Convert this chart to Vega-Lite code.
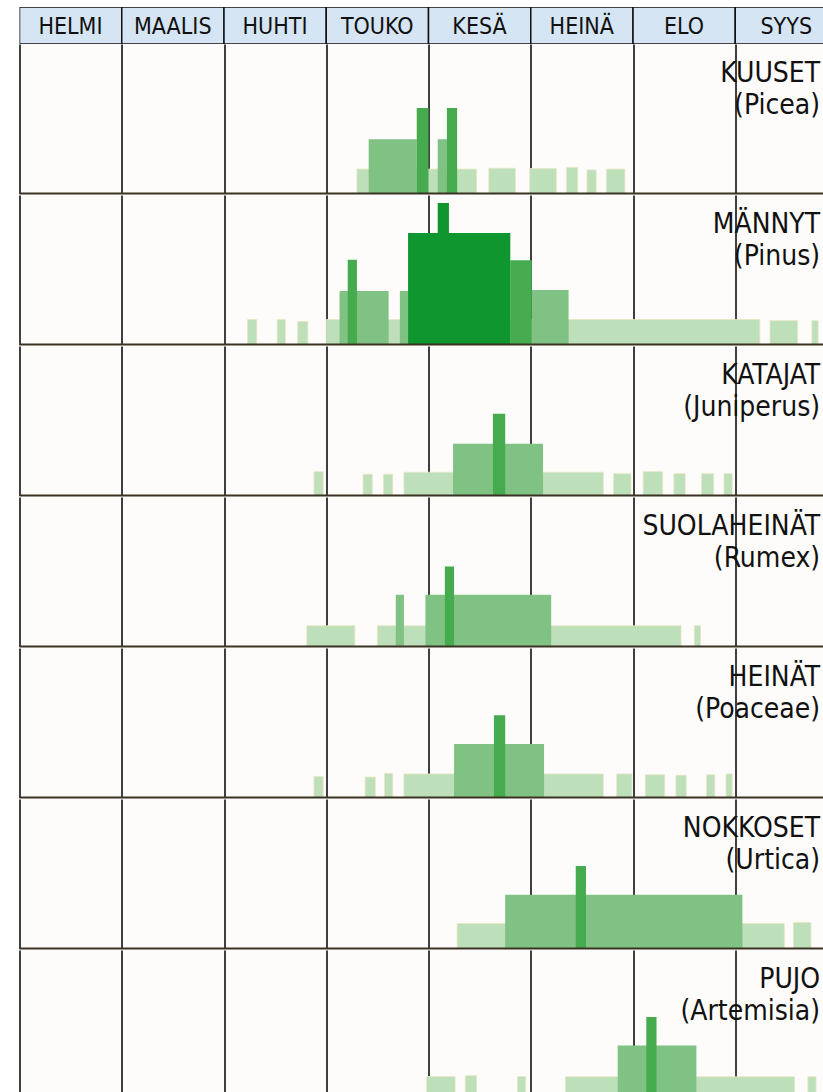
{
  "$schema": "https://vega.github.io/schema/vega-lite/v6.json",
  "padding": {"left": 18.5, "top": 7, "right": 0, "bottom": 0},
  "background": "#ffffff",
  "spacing": 0,
  "config": {
    "view": {"stroke": null, "fill": "#fdfcfa"},
    "font": "Liberation Sans Narrow, DejaVu Sans Condensed, Liberation Sans, sans-serif"
  },
  "vconcat": [
    {
      "width": 804,
      "height": 37,
      "data": {"values": [
        {"month": "HELMI", "s": 2, "e": 3},
        {"month": "MAALIS", "s": 3, "e": 4},
        {"month": "HUHTI", "s": 4, "e": 5},
        {"month": "TOUKO", "s": 5, "e": 6},
        {"month": "KESÄ", "s": 6, "e": 7},
        {"month": "HEINÄ", "s": 7, "e": 8},
        {"month": "ELO", "s": 8, "e": 9},
        {"month": "SYYS", "s": 9, "e": 10}
      ]},
      "encoding": {
        "x": {"field": "s", "type": "quantitative", "scale": {"domain": [2, 9.863], "nice": false, "zero": false}, "axis": null}
      },
      "layer": [
        {
          "mark": {"type": "rect", "fill": "#d5e5f3", "stroke": "#111111", "strokeWidth": 1.5, "clip": true},
          "encoding": {
            "x2": {"field": "e"},
            "y": {"datum": 0, "type": "quantitative", "scale": {"domain": [0, 1]}, "axis": null},
            "y2": {"datum": 1}
          }
        },
        {
          "mark": {"type": "text", "dx": 51, "dy": 1, "fontSize": 23, "baseline": "middle", "color": "#111111"},
          "encoding": {
            "text": {"field": "month"},
            "y": {"datum": 0.5, "type": "quantitative", "scale": {"domain": [0, 1]}, "axis": null}
          }
        }
      ]
    },
    {
      "data": {"values": [
        {"name": "KUUSET", "latin": "(Picea)", "s": 5.30, "e": 6.47, "level": 1, "h": 0.86},
        {"name": "KUUSET", "latin": "(Picea)", "s": 6.59, "e": 6.85, "level": 1, "h": 0.89},
        {"name": "KUUSET", "latin": "(Picea)", "s": 6.99, "e": 7.25, "level": 1, "h": 0.88},
        {"name": "KUUSET", "latin": "(Picea)", "s": 7.35, "e": 7.46, "level": 1, "h": 0.92},
        {"name": "KUUSET", "latin": "(Picea)", "s": 7.55, "e": 7.64, "level": 1, "h": 0.83},
        {"name": "KUUSET", "latin": "(Picea)", "s": 7.74, "e": 7.92, "level": 1, "h": 0.86},
        {"name": "KUUSET", "latin": "(Picea)", "s": 5.415, "e": 5.885, "level": 2, "h": 1.91},
        {"name": "KUUSET", "latin": "(Picea)", "s": 6.09, "e": 6.18, "level": 2, "h": 1.91},
        {"name": "KUUSET", "latin": "(Picea)", "s": 5.885, "e": 6.00, "level": 3, "h": 3.0},
        {"name": "KUUSET", "latin": "(Picea)", "s": 6.18, "e": 6.28, "level": 3, "h": 3.0},

        {"name": "MÄNNYT", "latin": "(Pinus)", "s": 4.23, "e": 4.32, "level": 1, "h": 0.88},
        {"name": "MÄNNYT", "latin": "(Pinus)", "s": 4.52, "e": 4.60, "level": 1, "h": 0.88},
        {"name": "MÄNNYT", "latin": "(Pinus)", "s": 4.72, "e": 4.82, "level": 1, "h": 0.81},
        {"name": "MÄNNYT", "latin": "(Pinus)", "s": 5.00, "e": 9.24, "level": 1, "h": 0.88},
        {"name": "MÄNNYT", "latin": "(Pinus)", "s": 9.34, "e": 9.61, "level": 1, "h": 0.84},
        {"name": "MÄNNYT", "latin": "(Pinus)", "s": 9.75, "e": 9.81, "level": 1, "h": 0.84},
        {"name": "MÄNNYT", "latin": "(Pinus)", "s": 5.13, "e": 5.61, "level": 2, "h": 1.88},
        {"name": "MÄNNYT", "latin": "(Pinus)", "s": 5.72, "e": 5.80, "level": 2, "h": 1.88},
        {"name": "MÄNNYT", "latin": "(Pinus)", "s": 7.01, "e": 7.37, "level": 2, "h": 1.92},
        {"name": "MÄNNYT", "latin": "(Pinus)", "s": 5.21, "e": 5.30, "level": 3, "h": 2.98},
        {"name": "MÄNNYT", "latin": "(Pinus)", "s": 6.80, "e": 7.01, "level": 3, "h": 2.96},
        {"name": "MÄNNYT", "latin": "(Pinus)", "s": 5.80, "e": 6.80, "level": 4, "h": 3.92},
        {"name": "MÄNNYT", "latin": "(Pinus)", "s": 6.09, "e": 6.20, "level": 5, "h": 4.97},

        {"name": "KATAJAT", "latin": "(Juniperus)", "s": 4.88, "e": 4.97, "level": 1, "h": 0.84},
        {"name": "KATAJAT", "latin": "(Juniperus)", "s": 5.36, "e": 5.45, "level": 1, "h": 0.75},
        {"name": "KATAJAT", "latin": "(Juniperus)", "s": 5.56, "e": 5.65, "level": 1, "h": 0.75},
        {"name": "KATAJAT", "latin": "(Juniperus)", "s": 5.76, "e": 7.71, "level": 1, "h": 0.82},
        {"name": "KATAJAT", "latin": "(Juniperus)", "s": 7.81, "e": 7.98, "level": 1, "h": 0.77},
        {"name": "KATAJAT", "latin": "(Juniperus)", "s": 8.10, "e": 8.29, "level": 1, "h": 0.84},
        {"name": "KATAJAT", "latin": "(Juniperus)", "s": 8.40, "e": 8.51, "level": 1, "h": 0.77},
        {"name": "KATAJAT", "latin": "(Juniperus)", "s": 8.67, "e": 8.79, "level": 1, "h": 0.77},
        {"name": "KATAJAT", "latin": "(Juniperus)", "s": 8.89, "e": 8.97, "level": 1, "h": 0.77},
        {"name": "KATAJAT", "latin": "(Juniperus)", "s": 6.24, "e": 7.12, "level": 2, "h": 1.82},
        {"name": "KATAJAT", "latin": "(Juniperus)", "s": 6.63, "e": 6.75, "level": 3, "h": 2.87},

        {"name": "SUOLAHEINÄT", "latin": "(Rumex)", "s": 4.81, "e": 5.28, "level": 1, "h": 0.73},
        {"name": "SUOLAHEINÄT", "latin": "(Rumex)", "s": 5.50, "e": 8.47, "level": 1, "h": 0.73},
        {"name": "SUOLAHEINÄT", "latin": "(Rumex)", "s": 8.60, "e": 8.66, "level": 1, "h": 0.73},
        {"name": "SUOLAHEINÄT", "latin": "(Rumex)", "s": 5.68, "e": 5.76, "level": 2, "h": 1.82},
        {"name": "SUOLAHEINÄT", "latin": "(Rumex)", "s": 5.97, "e": 7.20, "level": 2, "h": 1.82},
        {"name": "SUOLAHEINÄT", "latin": "(Rumex)", "s": 6.16, "e": 6.25, "level": 3, "h": 2.81},

        {"name": "HEINÄT", "latin": "(Poaceae)", "s": 4.88, "e": 4.97, "level": 1, "h": 0.74},
        {"name": "HEINÄT", "latin": "(Poaceae)", "s": 5.38, "e": 5.48, "level": 1, "h": 0.72},
        {"name": "HEINÄT", "latin": "(Poaceae)", "s": 5.57, "e": 5.65, "level": 1, "h": 0.85},
        {"name": "HEINÄT", "latin": "(Poaceae)", "s": 5.76, "e": 7.71, "level": 1, "h": 0.83},
        {"name": "HEINÄT", "latin": "(Poaceae)", "s": 7.84, "e": 7.99, "level": 1, "h": 0.83},
        {"name": "HEINÄT", "latin": "(Poaceae)", "s": 8.12, "e": 8.31, "level": 1, "h": 0.80},
        {"name": "HEINÄT", "latin": "(Poaceae)", "s": 8.42, "e": 8.52, "level": 1, "h": 0.78},
        {"name": "HEINÄT", "latin": "(Poaceae)", "s": 8.72, "e": 8.80, "level": 1, "h": 0.80},
        {"name": "HEINÄT", "latin": "(Poaceae)", "s": 8.91, "e": 8.97, "level": 1, "h": 0.83},
        {"name": "HEINÄT", "latin": "(Poaceae)", "s": 6.25, "e": 7.13, "level": 2, "h": 1.88},
        {"name": "HEINÄT", "latin": "(Poaceae)", "s": 6.64, "e": 6.75, "level": 3, "h": 2.89},

        {"name": "NOKKOSET", "latin": "(Urtica)", "s": 6.28, "e": 9.48, "level": 1, "h": 0.88},
        {"name": "NOKKOSET", "latin": "(Urtica)", "s": 9.57, "e": 9.74, "level": 1, "h": 0.92},
        {"name": "NOKKOSET", "latin": "(Urtica)", "s": 6.75, "e": 9.07, "level": 2, "h": 1.89},
        {"name": "NOKKOSET", "latin": "(Urtica)", "s": 7.44, "e": 7.54, "level": 3, "h": 2.9},

        {"name": "PUJO", "latin": "(Artemisia)", "s": 5.98, "e": 6.26, "level": 1, "h": 0.81},
        {"name": "PUJO", "latin": "(Artemisia)", "s": 6.36, "e": 6.47, "level": 1, "h": 0.84},
        {"name": "PUJO", "latin": "(Artemisia)", "s": 6.87, "e": 6.95, "level": 1, "h": 0.81},
        {"name": "PUJO", "latin": "(Artemisia)", "s": 7.34, "e": 9.58, "level": 1, "h": 0.80},
        {"name": "PUJO", "latin": "(Artemisia)", "s": 9.71, "e": 9.79, "level": 1, "h": 0.80},
        {"name": "PUJO", "latin": "(Artemisia)", "s": 7.85, "e": 8.62, "level": 2, "h": 1.9},
        {"name": "PUJO", "latin": "(Artemisia)", "s": 8.13, "e": 8.23, "level": 3, "h": 2.9}
      ]},
      "facet": {
        "row": {
          "field": "name",
          "type": "nominal",
          "sort": ["KUUSET", "MÄNNYT", "KATAJAT", "SUOLAHEINÄT", "HEINÄT", "NOKKOSET", "PUJO"],
          "header": null
        }
      },
      "spacing": 0,
      "spec": {
        "width": 804,
        "height": 149.6,
        "layer": [
          {
            "mark": {"type": "bar", "strokeWidth": 0.8, "clip": true},
            "encoding": {
              "x": {
                "field": "s",
                "type": "quantitative",
                "scale": {"domain": [2, 9.863], "nice": false, "zero": false},
                "axis": {"values": [2, 3, 4, 5, 6, 7, 8, 9], "grid": true, "gridColor": "#000000", "gridWidth": 1.5, "gridOpacity": 1, "labels": false, "ticks": false, "domain": false, "title": null}
              },
              "x2": {"field": "e"},
              "y": {"field": "h", "type": "quantitative", "scale": {"domain": [0, 5.25], "nice": false}, "axis": null},
              "y2": {"datum": 0},
              "color": {
                "field": "level",
                "type": "ordinal",
                "scale": {"domain": [1, 2, 3, 4, 5], "range": ["#bddfb9", "#80c283", "#46aa4e", "#0f962e", "#0f962e"]},
                "legend": null
              },
              "stroke": {"condition": {"test": "datum.level === 1", "value": "#e9e6c2"}, "value": "transparent"},
              "order": {"field": "level"}
            }
          },
          {
            "transform": [{"aggregate": [{"op": "count", "as": "n"}], "groupby": ["name", "latin"]}],
            "mark": {"type": "rule", "color": "#3a3223", "strokeWidth": 2},
            "encoding": {"y": {"datum": 0}}
          },
          {
            "transform": [
              {"aggregate": [{"op": "count", "as": "n"}], "groupby": ["name", "latin"]},
              {"calculate": "[datum.name, datum.latin]", "as": "lbl"}
            ],
            "mark": {"type": "text", "align": "right", "baseline": "alphabetic", "fontSize": 28, "lineHeight": 32, "color": "#111111"},
            "encoding": {"text": {"field": "lbl"}, "x": {"datum": 9.83}, "y": {"datum": 3.92}}
          }
        ]
      }
    }
  ]
}
